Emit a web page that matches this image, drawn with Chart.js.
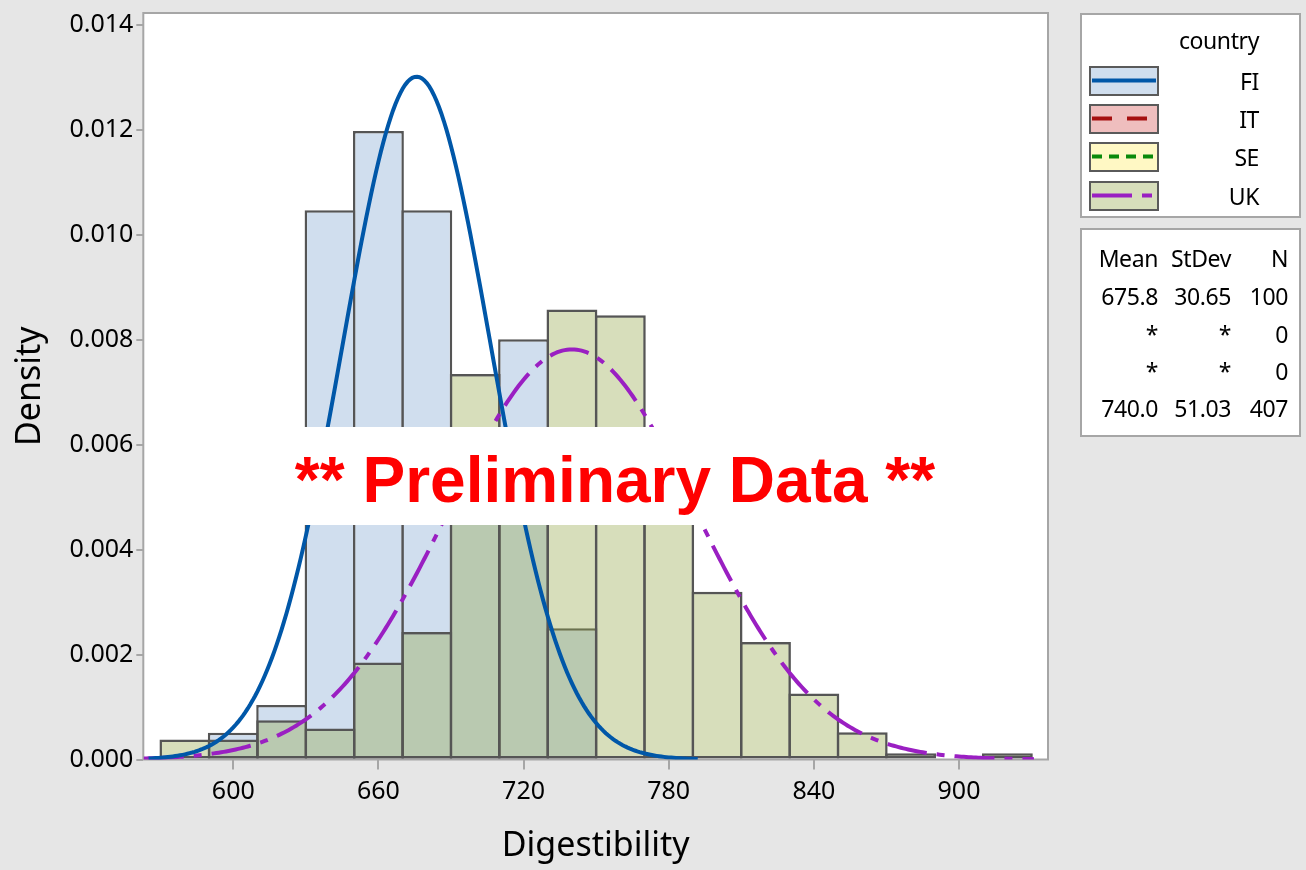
<!DOCTYPE html>
<html>
<head>
<meta charset="utf-8">
<title>Histogram of Digestibility by country</title>
<script src="https://cdn.jsdelivr.net/npm/chart.js@4"></script>
<style>
  html, body { margin: 0; padding: 0; background: #e6e6e6; }
  #wrap { position: relative; width: 1306px; height: 870px; overflow: hidden;
          font-family: "Noto Sans", sans-serif; color: #000; }
  #plot { position: absolute; left: 0; top: 0; }
  .box { position: absolute; background: #fff; border: 2px solid #a6a6a6; box-sizing: border-box; }
  .t { position: absolute; white-space: nowrap; font-size: 23px; line-height: 30px; letter-spacing: -0.4px; }
  .sw { position: absolute; left: 1089px; width: 70px; height: 30px; box-sizing: border-box;
        border: 2.5px solid #5a5a5a; }
  .sw svg { position: absolute; left: 0; top: 0; }
  #stamp { position: absolute; left: 285px; top: 427px; width: 660px; height: 98px; background: #fff;
           text-align: center; overflow: hidden; }
  #stamp div { font-family: "Liberation Sans", Arial, sans-serif; font-weight: bold; font-size: 64px;
               line-height: 106px; color: #ff0000; white-space: nowrap; }
</style>
</head>
<body>
<div id="wrap">
  <canvas id="plot" width="1306" height="870"></canvas>
  <div class="box" id="legendBox" style="left:1080px;top:13px;width:221px;height:205px;"></div>
  <div class="box" id="statBox" style="left:1080px;top:228px;width:221px;height:209px;"></div>
  <div id="stamp"><div>** Preliminary Data **</div></div>
</div>
<script>
// Histogram bins (midpoints, width 20) and density per bin for each country
const binMid = [580, 600, 620, 640, 660, 680, 700, 720, 740, 760, 780, 800, 820, 840, 860, 880, 900, 920];
const fiDensity = [null, 0.00051, 0.00104, 0.01047, 0.01198, 0.01047, 0.00500, 0.00801, 0.00250,
                   null, null, null, null, null, null, null, null, null];
const ukDensity = [0.00038, 0.00038, 0.00075, 0.00059, 0.00185, 0.00243, 0.00735, 0.00600, 0.00858,
                   0.00847, 0.00570, 0.00320, 0.00224, 0.00126, 0.00052, 0.00012, null, 0.00012];

// Summary statistics per country (fitted normal distributions)
const countries = ['FI', 'IT', 'SE', 'UK'];
const statMean = [675.8, null, null, 740.0];
const statSd = [30.65, null, null, 51.03];
const statN = [100, 0, 0, 407];

// Axis ticks
const xTicks = [600, 660, 720, 780, 840, 900];
const yTicks = [0, 0.002, 0.004, 0.006, 0.008, 0.010, 0.012, 0.014];

// Span over which each fitted curve is drawn
const fiCurveSpan = [565, 792];
const ukCurveSpan = [563, 931];

const BAR_EDGE = '#555555';
const FI_FILL = 'rgb(208,222,238)';
const UK_FILL = 'rgb(215,222,187)';
// UK bars are translucent so that FI bars show through where they overlap
const UK_FILL_TRANSLUCENT = 'rgba(147,166,71,0.37)';
const FI_LINE = '#0057a8';
const UK_LINE = '#9a1fc2';

function normalFit(mean, sd, span) {
  const pts = [];
  for (let x = span[0]; x <= span[1]; x += 1) {
    const z = (x - mean) / sd;
    pts.push({ x: x, y: Math.exp(-0.5 * z * z) / (sd * Math.sqrt(2 * Math.PI)) });
  }
  return pts;
}

function barPoints(values) {
  return binMid.map((x, i) => ({ x: x, y: values[i] })).filter(p => p.y !== null);
}

const barCommon = {
  type: 'bar', grouped: false, barPercentage: 1.052, categoryPercentage: 1,
  borderColor: BAR_EDGE, borderWidth: 2.5, borderSkipped: false, inflateAmount: 0
};

const paintPlot = {
  id: 'paintPlot',
  beforeDraw(chart) {
    const { ctx, chartArea: a } = chart;
    ctx.save();
    ctx.fillStyle = '#e6e6e6';
    ctx.fillRect(0, 0, chart.width, chart.height);
    ctx.fillStyle = '#ffffff';
    ctx.fillRect(a.left, a.top, a.right - a.left, a.bottom - a.top);
    ctx.restore();
  },
  beforeDatasetsDraw(chart) {
    const { ctx, chartArea: a } = chart;
    ctx.save();
    ctx.strokeStyle = '#a6a6a6';
    ctx.lineWidth = 2;
    ctx.strokeRect(a.left, a.top, a.right - a.left, a.bottom - a.top);
    ctx.restore();
  }
};

new Chart(document.getElementById('plot'), {
  type: 'bar',
  data: {
    datasets: [
      { type: 'line', label: 'FI fit', data: normalFit(statMean[0], statSd[0], fiCurveSpan),
        borderColor: FI_LINE, borderWidth: 4, pointRadius: 0, tension: 0, order: 0 },
      { type: 'line', label: 'UK fit', data: normalFit(statMean[3], statSd[3], ukCurveSpan),
        borderColor: UK_LINE, borderWidth: 4, borderDash: [40, 10, 8, 10], pointRadius: 0,
        tension: 0, order: 1 },
      Object.assign({ label: 'UK', data: barPoints(ukDensity), backgroundColor: UK_FILL_TRANSLUCENT,
        order: 2 }, barCommon),
      Object.assign({ label: 'FI', data: barPoints(fiDensity), backgroundColor: FI_FILL,
        order: 3 }, barCommon)
    ]
  },
  options: {
    responsive: false,
    devicePixelRatio: 1,
    animation: false,
    layout: { padding: { left: 0, top: 13, right: 258, bottom: 0 } },
    plugins: { legend: { display: false }, tooltip: { enabled: false } },
    scales: {
      x: {
        type: 'linear', min: 562.8, max: 936.8, offset: false,
        afterBuildTicks: s => { s.ticks = xTicks.map(v => ({ value: v })); },
        afterFit: s => { s.height = 110.5; s.paddingLeft = 0; s.paddingRight = 0; },
        grid: { offset: false, drawOnChartArea: false, drawTicks: true, tickLength: 10,
                color: '#a6a6a6', lineWidth: 2 },
        border: { display: false },
        ticks: { color: '#000', padding: 10, maxRotation: 0, autoSkip: false,
                 font: { family: 'Noto Sans', size: 25, lineHeight: 1 },
                 callback: v => String(v) },
        title: { display: true, text: 'Digestibility', color: '#000',
                 font: { family: 'Noto Sans', size: 34, lineHeight: 1.2 }, padding: { top: 0, bottom: 3 } }
      },
      y: {
        type: 'linear', min: 0, max: 0.01423,
        afterBuildTicks: s => { s.ticks = yTicks.map(v => ({ value: v })); },
        afterFit: s => { s.width = 143.3; s.paddingTop = 0; s.paddingBottom = 0; },
        grid: { offset: false, drawOnChartArea: false, drawTicks: true, tickLength: 7,
                color: '#a6a6a6', lineWidth: 2 },
        border: { display: false },
        ticks: { color: '#000', padding: 3, autoSkip: false,
                 font: { family: 'Noto Sans', size: 25, lineHeight: 1 },
                 callback: v => Number(v).toFixed(3) },
        title: { display: true, text: 'Density', color: '#000',
                 font: { family: 'Noto Sans', size: 34, lineHeight: 1.2 }, padding: { top: 10, bottom: 0 } }
      }
    }
  },
  plugins: [paintPlot]
});

// Legend: group title, swatches and labels
const wrap = document.getElementById('wrap');
const swatchStyle = {
  FI: { fill: FI_FILL, stroke: FI_LINE, dash: '' },
  IT: { fill: 'rgb(239,190,190)', stroke: '#a50f0f', dash: '20 15' },
  SE: { fill: 'rgb(255,248,196)', stroke: '#0a8a0a', dash: '10 7' },
  UK: { fill: UK_FILL, stroke: UK_LINE, dash: '40 10 10 10' }
};
const swatchTop = [66, 104, 142, 181];

function addText(text, rightX, centerY) {
  const d = document.createElement('div');
  d.className = 't';
  d.textContent = text;
  d.style.right = (1306 - rightX) + 'px';
  d.style.top = (centerY - 15) + 'px';
  wrap.appendChild(d);
}

addText('country', 1259, 40);
countries.forEach((c, i) => {
  const st = swatchStyle[c];
  const sw = document.createElement('div');
  sw.className = 'sw';
  sw.style.top = swatchTop[i] + 'px';
  sw.style.background = st.fill;
  sw.innerHTML = '<svg width="65" height="25" viewBox="0 0 65 25">' +
    '<line x1="1" y1="12.5" x2="65" y2="12.5" stroke="' + st.stroke + '" stroke-width="4"' +
    (st.dash ? ' stroke-dasharray="' + st.dash + '"' : '') + '/></svg>';
  wrap.appendChild(sw);
  addText(c, 1259, swatchTop[i] + 15);
});

// Statistics table
const colRight = [1158, 1231, 1288];
const rowCenter = [258, 296, 334, 371, 408];
['Mean', 'StDev', 'N'].forEach((h, j) => addText(h, colRight[j], rowCenter[0]));
countries.forEach((c, i) => {
  const y = rowCenter[i + 1];
  addText(statMean[i] === null ? '*' : statMean[i].toFixed(1), colRight[0], y);
  addText(statSd[i] === null ? '*' : statSd[i].toFixed(2), colRight[1], y);
  addText(String(statN[i]), colRight[2], y);
});
</script>
</body>
</html>
